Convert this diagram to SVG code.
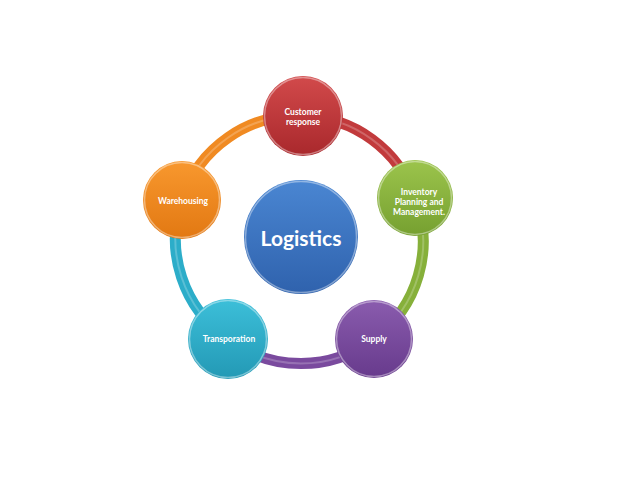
<svg xmlns="http://www.w3.org/2000/svg" width="640" height="480" viewBox="0 0 640 480">
<defs>
<linearGradient id="gBlue" x1="0" y1="0" x2="0" y2="1"><stop offset="0" stop-color="#4a86d2"/><stop offset="1" stop-color="#2f62ad"/></linearGradient>
<linearGradient id="gRed" x1="0" y1="0" x2="0" y2="1"><stop offset="0" stop-color="#d24a4b"/><stop offset="1" stop-color="#a9282c"/></linearGradient>
<linearGradient id="gGreen" x1="0" y1="0" x2="0" y2="1"><stop offset="0" stop-color="#9cc44c"/><stop offset="1" stop-color="#76a030"/></linearGradient>
<linearGradient id="gPurple" x1="0" y1="0" x2="0" y2="1"><stop offset="0" stop-color="#8a5cae"/><stop offset="1" stop-color="#673a8c"/></linearGradient>
<linearGradient id="gCyan" x1="0" y1="0" x2="0" y2="1"><stop offset="0" stop-color="#3cbfd9"/><stop offset="1" stop-color="#2399b5"/></linearGradient>
<linearGradient id="gOrange" x1="0" y1="0" x2="0" y2="1"><stop offset="0" stop-color="#f8982e"/><stop offset="1" stop-color="#e27812"/></linearGradient>
</defs>
<style>
.arc{fill:none;stroke-width:11;stroke-linecap:butt}
.hl{fill:none;stroke:#ffffff;stroke-opacity:0.22;stroke-width:2}
.rim{fill:none;stroke:#ffffff;stroke-opacity:0.4;stroke-width:1.5}
.lbl{font-family:Lato,"Liberation Sans",sans-serif;font-weight:bold;fill:#ffffff;text-anchor:middle;font-size:8.5px}
.big{font-family:Lato,"Liberation Sans",sans-serif;font-weight:bold;fill:#ffffff;text-anchor:middle;font-size:21px}
</style>
<rect width="640" height="480" fill="#ffffff"/>
<g id="connectors">
<path class="arc" stroke="#f08a22" d="M182,200 A121,121 0 0 1 303,116"/>
<path class="arc" stroke="#c23a3c" d="M303,116 A121,121 0 0 1 415,198"/>
<path class="arc" stroke="#86b03a" d="M415,198 A121,121 0 0 1 374,339"/>
<path class="arc" stroke="#7a4a9e" d="M374,339 A121,121 0 0 1 228,339"/>
<path class="arc" stroke="#2cadc9" d="M228,339 A121,121 0 0 1 182,200"/>
<path class="hl" d="M182,200 A121,121 0 0 1 303,116 A121,121 0 0 1 415,198 A121,121 0 0 1 374,339 A121,121 0 0 1 228,339 A121,121 0 0 1 182,200"/>
</g>
<g id="node-logistics">
<circle cx="301" cy="237" r="57" fill="url(#gBlue)"/>
<circle class="rim" cx="301" cy="237" r="55.5"/>
<text class="big" x="301" y="246">Logistics</text>
</g>
<g id="node-customer">
<circle cx="303" cy="116" r="40" fill="url(#gRed)"/>
<circle class="rim" cx="303" cy="116" r="38.5"/>
<text class="lbl" x="303" y="115">Customer</text>
<text class="lbl" x="303" y="125">response</text>
</g>
<g id="node-inventory">
<circle cx="415" cy="198" r="38" fill="url(#gGreen)"/>
<circle class="rim" cx="415" cy="198" r="36.5"/>
<text class="lbl" x="419" y="195">Inventory</text>
<text class="lbl" x="419" y="205">Planning and</text>
<text class="lbl" x="419" y="215">Management.</text>
</g>
<g id="node-supply">
<circle cx="374" cy="339" r="39" fill="url(#gPurple)"/>
<circle class="rim" cx="374" cy="339" r="37.5"/>
<text class="lbl" x="374" y="342">Supply</text>
</g>
<g id="node-transporation">
<circle cx="228" cy="339" r="40" fill="url(#gCyan)"/>
<circle class="rim" cx="228" cy="339" r="38.5"/>
<text class="lbl" x="229" y="342">Transporation</text>
</g>
<g id="node-warehousing">
<circle cx="182" cy="200" r="39" fill="url(#gOrange)"/>
<circle class="rim" cx="182" cy="200" r="37.5"/>
<text class="lbl" x="183" y="204">Warehousing</text>
</g>
</svg>
